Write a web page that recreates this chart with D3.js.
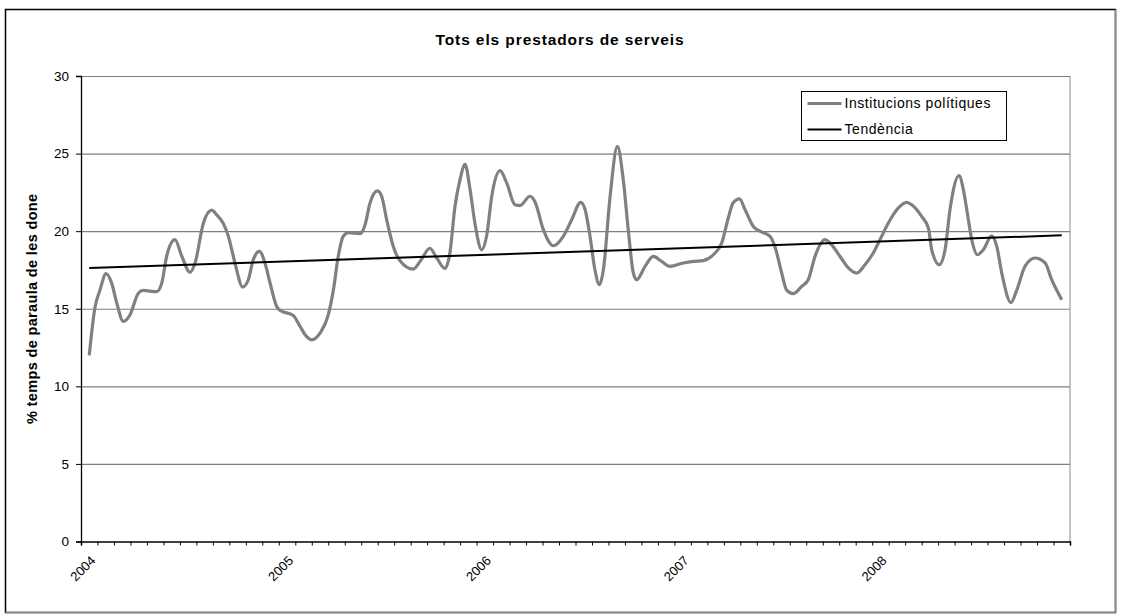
<!DOCTYPE html>
<html>
<head>
<meta charset="utf-8">
<script src="https://cdn.jsdelivr.net/npm/d3@7/dist/d3.min.js"></script>
<style>
  html, body { margin: 0; padding: 0; background: #fff; }
  svg { display: block; font-family: "Liberation Sans", Arial, sans-serif; }
</style>
</head>
<body>
<svg id="chart" width="1121" height="615"></svg>
<script>
// Monthly category axis: Jan 2004 .. Dec 2008 (60 months)
const monthCount = 60;
const yearLabels = ["2004", "2005", "2006", "2007", "2008"];
const yearStartMonth = [0, 12, 24, 36, 48];

// "Institucions polítiques": smoothed share, sampled along the month axis
const sampleMonth = [
  0, 0.35, 0.65, 1.02, 1.36, 1.67, 2.07, 2.47, 2.98, 3.28, 4.09, 4.40, 4.70, 5.20, 5.61, 6.11, 6.42, 6.92, 7.43, 7.73,
  8.13, 8.44, 8.84, 9.31, 9.65, 9.95, 10.32, 10.66, 10.97, 11.37, 11.57, 12.38, 12.79, 13.19, 13.50, 14.00, 14.50, 14.81, 15.11, 15.41,
  15.72, 16.43, 16.73, 17.03, 17.48, 17.74, 18.05, 18.45, 18.85, 19.66, 20.07, 20.67, 21.08, 21.58, 21.88, 22.19, 22.49, 22.80, 23.10, 23.40,
  23.81, 24.11, 24.42, 24.92, 25.33, 25.83, 26.13, 26.74, 27.04, 27.55, 28.15, 28.76, 29.27, 29.82, 30.08, 30.38, 30.68, 30.95, 31.19, 31.60,
  32.04, 32.40, 32.70, 33.01, 33.21, 33.72, 34.22, 34.73, 35.23, 36.04, 36.65, 37.25, 37.86, 38.37, 38.77, 39.05, 39.45, 39.78, 40.29, 40.69,
  41.30, 41.60, 42.01, 42.31, 42.71, 43.22, 43.62, 44.03, 44.64, 44.94, 45.55, 46.05, 46.56, 47.06, 47.57, 47.97, 48.48, 49.09, 49.59, 49.90,
  50.50, 50.91, 51.11, 51.57, 51.92, 52.22, 52.77, 53.03, 53.27, 53.54, 53.88, 54.24, 54.75, 55.06, 55.36, 55.92, 56.27, 56.77, 57.38, 57.99,
  58.39, 59.00
];
const institucionsValues = [
  12.0, 15.1, 16.2, 17.26, 16.65, 15.37, 14.18, 14.6, 16.0, 16.18, 16.1, 16.65, 18.4, 19.45, 18.4, 17.35, 17.95, 20.5, 21.35, 21.06,
  20.5, 19.67, 17.95, 16.4, 16.87, 18.16, 18.7, 17.95, 16.66, 15.15, 14.9, 14.57, 13.86, 13.2, 13.0, 13.43, 14.6, 16.2, 18.4, 19.67,
  19.9, 19.84, 20.4, 21.8, 22.6, 22.25, 20.7, 19.0, 18.1, 17.56, 18.05, 18.9, 18.27, 17.6, 18.6, 21.6, 23.3, 24.3, 22.7, 20.5,
  18.8, 19.7, 22.25, 23.9, 23.1, 21.7, 21.65, 22.25, 21.9, 20.1, 19.06, 19.67, 20.74, 21.86, 21.4, 19.67, 17.5, 16.55, 17.5, 22.25,
  25.47, 23.3, 20.1, 17.3, 16.87, 17.73, 18.37, 18.05, 17.73, 17.95, 18.05, 18.1, 18.48, 19.24, 20.85, 21.8, 22.08, 21.4, 20.3, 20.0,
  19.67, 19.0, 17.3, 16.2, 15.97, 16.44, 16.87, 18.37, 19.45, 19.24, 18.37, 17.63, 17.3, 17.84, 18.6, 19.45, 20.53, 21.5, 21.86, 21.7,
  20.95, 20.2, 18.8, 17.84, 18.8, 21.4, 23.58, 22.68, 21.17, 19.45, 18.48, 18.8, 19.7, 19.0, 17.3, 15.4, 16.2, 17.73, 18.27, 17.95,
  16.87, 15.58
];

// "Tendència": linear trend, first and last month
const trendMonth = [0, 59];
const trendValues = [17.62, 19.73];

const yTicks = [0, 5, 10, 15, 20, 25, 30];
const titleText = "Tots els prestadors de serveis";
const yTitleText = "% temps de paraula de les done";
const legendLabels = ["Institucions polítiques", "Tendència"];

const svg = d3.select("#chart");
const plot = { left: 81, right: 1070, top: 76, bottom: 541.5 };

const x = d3.scaleLinear().domain([-0.5, monthCount - 0.5]).range([plot.left, plot.right]);
const y = d3.scaleLinear().domain([0, 30]).range([plot.bottom, plot.top]);

// Outer chart frame
svg.append("rect")
  .attr("x", 5.5).attr("y", 9.5).attr("width", 1110).attr("height", 603)
  .attr("fill", "#fff").attr("stroke", "#000").attr("stroke-width", 1.5);
svg.append("path")
  .attr("d", "M1115.5,9.5 V612.5 H5.5")
  .attr("fill", "none").attr("stroke", "#8c8c8c").attr("stroke-width", 1.5);

// Title
svg.append("text")
  .attr("x", 560).attr("y", 45)
  .attr("text-anchor", "middle")
  .attr("font-size", 15.5).attr("font-weight", "bold")
  .attr("letter-spacing", 0.9)
  .text(titleText);

// Horizontal gridlines
svg.append("g")
  .attr("transform", `translate(${plot.left},0)`)
  .call(d3.axisLeft(y).tickValues(yTicks.filter(d => d > 0)).tickSize(-(plot.right - plot.left)).tickFormat(""))
  .call(g => g.select(".domain").remove())
  .call(g => g.selectAll("line").attr("stroke", "#7f7f7f").attr("stroke-width", 1.2));

// Plot area right edge
svg.append("line")
  .attr("x1", plot.right).attr("x2", plot.right)
  .attr("y1", plot.top).attr("y2", plot.bottom)
  .attr("stroke", "#8c8c8c").attr("stroke-width", 1);

// Y axis
const yAxis = svg.append("g")
  .attr("transform", `translate(${plot.left},0)`)
  .call(d3.axisLeft(y).tickValues(yTicks).tickSize(5).tickPadding(7));
yAxis.select(".domain").attr("stroke", "#000").attr("stroke-width", 1.3);
yAxis.selectAll("line").attr("stroke", "#000");
yAxis.selectAll("text").attr("font-size", 13.5).attr("font-family", "Liberation Sans, Arial, sans-serif").attr("fill", "#000");

// X axis with month tick marks between categories
const monthEdges = d3.range(0, monthCount + 1).map(k => k - 0.5);
const xAxis = svg.append("g")
  .attr("transform", `translate(0,${plot.bottom})`)
  .call(d3.axisBottom(x).tickValues(monthEdges).tickSize(4).tickFormat(""));
xAxis.select(".domain").attr("stroke", "#000").attr("stroke-width", 1.5);
xAxis.selectAll("line").attr("stroke", "#000");

// Year labels, rotated
svg.append("g")
  .selectAll("text")
  .data(yearLabels)
  .join("text")
  .attr("transform", (d, i) => `translate(${x(yearStartMonth[i]) + 7},${plot.bottom + 20}) rotate(-45)`)
  .attr("text-anchor", "end")
  .attr("font-size", 13)
  .text(d => d);

// Y axis title
svg.append("text")
  .attr("transform", `translate(37,${(plot.top + plot.bottom) / 2}) rotate(-90)`)
  .attr("text-anchor", "middle")
  .attr("font-size", 14.5).attr("font-weight", "bold")
  .attr("letter-spacing", 0.35)
  .text(yTitleText);

// Series line
const seriesData = sampleMonth.map((m, i) => [m, institucionsValues[i]]);
const lineGen = d3.line()
  .x(d => x(d[0]))
  .y(d => y(d[1]))
  .curve(d3.curveMonotoneX);

svg.append("path")
  .datum(seriesData)
  .attr("d", lineGen)
  .attr("fill", "none")
  .attr("stroke", "#808080")
  .attr("stroke-width", 3.2)
  .attr("stroke-linejoin", "round");

// Trend line
const trendData = trendMonth.map((m, i) => [m, trendValues[i]]);
svg.append("path")
  .datum(trendData)
  .attr("d", d3.line().x(d => x(d[0])).y(d => y(d[1])))
  .attr("fill", "none")
  .attr("stroke", "#000")
  .attr("stroke-width", 2);

// Legend
const legend = svg.append("g").attr("transform", "translate(801.5,91.5)");
legend.append("rect")
  .attr("width", 205).attr("height", 49)
  .attr("fill", "#fff").attr("stroke", "#000").attr("stroke-width", 1);
const legendStyles = [{ stroke: "#808080", width: 3 }, { stroke: "#000", width: 2 }];
legendLabels.forEach((label, i) => {
  const ly = 12 + i * 26;
  legend.append("line")
    .attr("x1", 6).attr("x2", 40).attr("y1", ly).attr("y2", ly)
    .attr("stroke", legendStyles[i].stroke).attr("stroke-width", legendStyles[i].width);
  legend.append("text")
    .attr("x", 43).attr("y", ly).attr("dy", "0.35em")
    .attr("font-size", 14)
    .attr("letter-spacing", 0.55)
    .text(label);
});
</script>
</body>
</html>
